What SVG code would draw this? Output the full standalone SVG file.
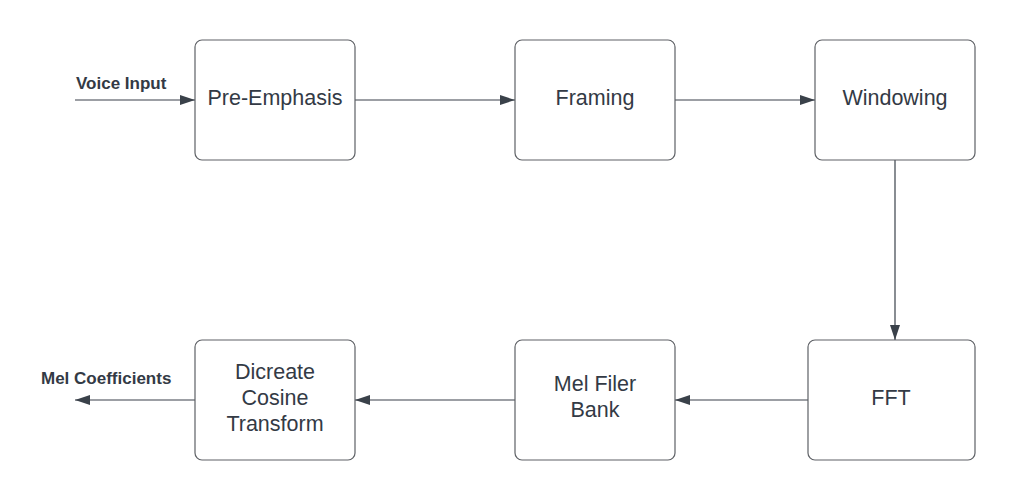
<svg xmlns="http://www.w3.org/2000/svg" width="1015" height="500" viewBox="0 0 1015 500">
<style>
.box{fill:#fff;stroke:#5e6166;stroke-width:1.2}
.t{font-family:"Liberation Sans",Arial,sans-serif;font-size:21.5px;fill:#333a45;text-anchor:middle}
.lbl{font-family:"Liberation Sans",Arial,sans-serif;font-size:17px;font-weight:bold;fill:#333a45}
.c{stroke:#3a414a;stroke-width:1.2;fill:none}
</style>
<defs>
<marker id="ah" viewBox="0 0 15 10" refX="15" refY="5" markerWidth="15" markerHeight="10" markerUnits="userSpaceOnUse" orient="auto">
<path d="M0,0 L15,5 L0,10 Z" fill="#3a414a"/>
</marker>
</defs>
<rect width="1015" height="500" fill="#fff"/>
<g id="connectors">
<line class="c" x1="75" y1="100" x2="195" y2="100" marker-end="url(#ah)"/>
<line class="c" x1="355" y1="100" x2="515" y2="100" marker-end="url(#ah)"/>
<line class="c" x1="675" y1="100" x2="815" y2="100" marker-end="url(#ah)"/>
<line class="c" x1="895" y1="160" x2="895" y2="340" marker-end="url(#ah)"/>
<line class="c" x1="808" y1="400" x2="675" y2="400" marker-end="url(#ah)"/>
<line class="c" x1="515" y1="400" x2="355" y2="400" marker-end="url(#ah)"/>
<line class="c" x1="195" y1="400" x2="75" y2="400" marker-end="url(#ah)"/>
<text class="lbl" x="76" y="89">Voice Input</text>
<text class="lbl" x="41" y="384">Mel Coefficients</text>
</g>
<g id="pre-emphasis">
<rect class="box" x="195" y="40" width="160" height="120" rx="7"/>
<text class="t" x="275" y="105">Pre-Emphasis</text>
</g>
<g id="framing">
<rect class="box" x="515" y="40" width="160" height="120" rx="7"/>
<text class="t" x="595" y="105">Framing</text>
</g>
<g id="windowing">
<rect class="box" x="815" y="40" width="160" height="120" rx="7"/>
<text class="t" x="895" y="105">Windowing</text>
</g>
<g id="fft">
<rect class="box" x="808" y="340" width="167" height="120" rx="7"/>
<text class="t" x="891" y="405">FFT</text>
</g>
<g id="mel-filter-bank">
<rect class="box" x="515" y="340" width="160" height="120" rx="7"/>
<text class="t" x="595" y="391">Mel Filer</text>
<text class="t" x="595" y="417">Bank</text>
</g>
<g id="dct">
<rect class="box" x="195" y="340" width="160" height="120" rx="7"/>
<text class="t" x="275" y="379">Dicreate</text>
<text class="t" x="275" y="405">Cosine</text>
<text class="t" x="275" y="431">Transform</text>
</g>
</svg>
